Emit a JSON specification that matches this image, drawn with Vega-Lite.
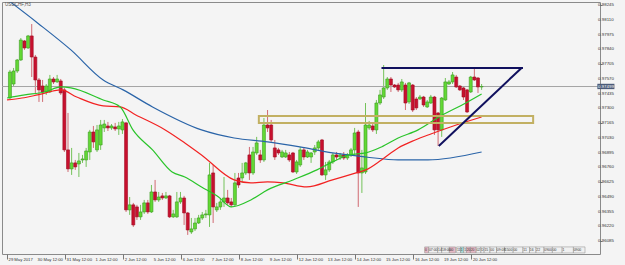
{
"$schema": "https://vega.github.io/schema/vega-lite/v6.json",
"width": 598, "height": 252,
"autosize": "none",
"padding": {"left": 2, "top": 2, "right": 25, "bottom": 11},
"background": "#f4f4f4",
"title": {"text": "USDCHF,H3", "anchor": "start", "frame": "group", "orient": "top", "offset": -5, "dx": 3, "fontSize": 4.6, "fontWeight": "normal", "color": "#555", "font": "Liberation Sans"},
"config": {"view": {"fill": "#f4f4f4", "stroke": "#8a8a8a", "strokeWidth": 1}, "font": "Liberation Sans",
"axis": {"labels": false, "grid": false, "domain": false, "tickColor": "#777"}},
"datasets": {
"candles": [
{"i":0,"o":0.97394,"h":0.97651,"l":0.97385,"c":0.97632},
{"i":1,"o":0.97522,"h":0.97669,"l":0.97504,"c":0.97641},
{"i":2,"o":0.97641,"h":0.97751,"l":0.97623,"c":0.97742},
{"i":3,"o":0.97742,"h":0.97943,"l":0.97733,"c":0.97925},
{"i":4,"o":0.97916,"h":0.97925,"l":0.97834,"c":0.97852},
{"i":5,"o":0.97852,"h":0.97971,"l":0.97843,"c":0.97962},
{"i":6,"o":0.97962,"h":0.98071,"l":0.97586,"c":0.97769},
{"i":7,"o":0.97769,"h":0.97788,"l":0.97440,"c":0.97559},
{"i":8,"o":0.97559,"h":0.97577,"l":0.97358,"c":0.97468},
{"i":9,"o":0.97504,"h":0.97559,"l":0.97358,"c":0.97449},
{"i":10,"o":0.97449,"h":0.97522,"l":0.97422,"c":0.97504},
{"i":11,"o":0.97449,"h":0.97605,"l":0.97440,"c":0.97568},
{"i":12,"o":0.97568,"h":0.97586,"l":0.97522,"c":0.97541},
{"i":13,"o":0.97541,"h":0.97605,"l":0.97532,"c":0.97568},
{"i":14,"o":0.97550,"h":0.97568,"l":0.97422,"c":0.97440},
{"i":15,"o":0.97468,"h":0.97486,"l":0.96900,"c":0.96919},
{"i":16,"o":0.96919,"h":0.97257,"l":0.96717,"c":0.96745},
{"i":17,"o":0.96745,"h":0.96937,"l":0.96690,"c":0.96800},
{"i":18,"o":0.96800,"h":0.96827,"l":0.96736,"c":0.96763},
{"i":19,"o":0.96790,"h":0.96891,"l":0.96671,"c":0.96818},
{"i":20,"o":0.96827,"h":0.96873,"l":0.96800,"c":0.96836},
{"i":21,"o":0.96827,"h":0.96937,"l":0.96763,"c":0.96909},
{"i":22,"o":0.96900,"h":0.97102,"l":0.96827,"c":0.97083},
{"i":23,"o":0.97083,"h":0.97138,"l":0.96937,"c":0.96992},
{"i":24,"o":0.96919,"h":0.97147,"l":0.96900,"c":0.97102},
{"i":25,"o":0.96964,"h":0.97193,"l":0.96919,"c":0.97147},
{"i":26,"o":0.97120,"h":0.97193,"l":0.97083,"c":0.97156},
{"i":27,"o":0.97138,"h":0.97175,"l":0.97092,"c":0.97120},
{"i":28,"o":0.97120,"h":0.97156,"l":0.97102,"c":0.97138},
{"i":29,"o":0.97129,"h":0.97166,"l":0.97092,"c":0.97111},
{"i":30,"o":0.97111,"h":0.97175,"l":0.97056,"c":0.97138},
{"i":31,"o":0.97102,"h":0.97202,"l":0.97065,"c":0.97175},
{"i":32,"o":0.97166,"h":0.97175,"l":0.96351,"c":0.96370},
{"i":33,"o":0.96370,"h":0.96488,"l":0.96324,"c":0.96416},
{"i":34,"o":0.96416,"h":0.96434,"l":0.96214,"c":0.96232},
{"i":35,"o":0.96397,"h":0.96416,"l":0.96278,"c":0.96306},
{"i":36,"o":0.96306,"h":0.96416,"l":0.96278,"c":0.96351},
{"i":37,"o":0.96351,"h":0.96461,"l":0.96333,"c":0.96434},
{"i":38,"o":0.96434,"h":0.96461,"l":0.96333,"c":0.96351},
{"i":39,"o":0.96351,"h":0.96598,"l":0.96342,"c":0.96534},
{"i":40,"o":0.96534,"h":0.96644,"l":0.96443,"c":0.96461},
{"i":41,"o":0.96461,"h":0.96534,"l":0.96443,"c":0.96488},
{"i":42,"o":0.96498,"h":0.96525,"l":0.96461,"c":0.96479},
{"i":43,"o":0.96479,"h":0.96534,"l":0.96470,"c":0.96498},
{"i":44,"o":0.96498,"h":0.96507,"l":0.96296,"c":0.96306},
{"i":45,"o":0.96306,"h":0.96370,"l":0.96296,"c":0.96333},
{"i":46,"o":0.96306,"h":0.96534,"l":0.96296,"c":0.96443},
{"i":47,"o":0.96443,"h":0.96534,"l":0.96425,"c":0.96479},
{"i":48,"o":0.96479,"h":0.96498,"l":0.96232,"c":0.96342},
{"i":49,"o":0.96342,"h":0.96351,"l":0.96141,"c":0.96186},
{"i":50,"o":0.96168,"h":0.96296,"l":0.96150,"c":0.96196},
{"i":51,"o":0.96196,"h":0.96296,"l":0.96177,"c":0.96250},
{"i":52,"o":0.96250,"h":0.96324,"l":0.96241,"c":0.96296},
{"i":53,"o":0.96296,"h":0.96351,"l":0.96278,"c":0.96324},
{"i":54,"o":0.96324,"h":0.96370,"l":0.96296,"c":0.96333},
{"i":55,"o":0.96324,"h":0.96800,"l":0.96214,"c":0.96690},
{"i":56,"o":0.96708,"h":0.96781,"l":0.96250,"c":0.96397},
{"i":57,"o":0.96370,"h":0.96434,"l":0.96351,"c":0.96397},
{"i":58,"o":0.96397,"h":0.96479,"l":0.96370,"c":0.96443},
{"i":59,"o":0.96443,"h":0.96671,"l":0.96397,"c":0.96479},
{"i":60,"o":0.96479,"h":0.96553,"l":0.96416,"c":0.96434},
{"i":61,"o":0.96443,"h":0.96479,"l":0.96397,"c":0.96416},
{"i":62,"o":0.96416,"h":0.96708,"l":0.96406,"c":0.96617},
{"i":63,"o":0.96662,"h":0.96708,"l":0.96571,"c":0.96598},
{"i":64,"o":0.96662,"h":0.96800,"l":0.96617,"c":0.96708},
{"i":65,"o":0.96708,"h":0.96809,"l":0.96690,"c":0.96800},
{"i":66,"o":0.96873,"h":0.96946,"l":0.96644,"c":0.96708},
{"i":67,"o":0.96708,"h":0.96946,"l":0.96690,"c":0.96900},
{"i":68,"o":0.96891,"h":0.97038,"l":0.96873,"c":0.96983},
{"i":69,"o":0.96873,"h":0.96919,"l":0.96800,"c":0.96827},
{"i":70,"o":0.96827,"h":0.97211,"l":0.96809,"c":0.97147},
{"i":71,"o":0.97147,"h":0.97284,"l":0.97083,"c":0.97120},
{"i":72,"o":0.97147,"h":0.97193,"l":0.96992,"c":0.97010},
{"i":73,"o":0.96937,"h":0.97010,"l":0.96827,"c":0.96854},
{"i":74,"o":0.96919,"h":0.96937,"l":0.96873,"c":0.96891},
{"i":75,"o":0.96854,"h":0.96919,"l":0.96845,"c":0.96900},
{"i":76,"o":0.96854,"h":0.96919,"l":0.96845,"c":0.96891},
{"i":77,"o":0.96873,"h":0.96900,"l":0.96809,"c":0.96827},
{"i":78,"o":0.96891,"h":0.96900,"l":0.96708,"c":0.96717},
{"i":79,"o":0.96717,"h":0.96827,"l":0.96699,"c":0.96809},
{"i":80,"o":0.96781,"h":0.96946,"l":0.96763,"c":0.96919},
{"i":81,"o":0.96919,"h":0.96937,"l":0.96827,"c":0.96854},
{"i":82,"o":0.96854,"h":0.96919,"l":0.96845,"c":0.96900},
{"i":83,"o":0.96854,"h":0.96900,"l":0.96800,"c":0.96891},
{"i":84,"o":0.96900,"h":0.96964,"l":0.96873,"c":0.96937},
{"i":85,"o":0.96937,"h":0.97010,"l":0.96919,"c":0.96992},
{"i":86,"o":0.97010,"h":0.97019,"l":0.96681,"c":0.96690},
{"i":87,"o":0.96690,"h":0.96809,"l":0.96644,"c":0.96736},
{"i":88,"o":0.96736,"h":0.96827,"l":0.96717,"c":0.96809},
{"i":89,"o":0.96809,"h":0.96891,"l":0.96790,"c":0.96873},
{"i":90,"o":0.96873,"h":0.96900,"l":0.96827,"c":0.96854},
{"i":91,"o":0.96854,"h":0.96891,"l":0.96827,"c":0.96873},
{"i":92,"o":0.96873,"h":0.96900,"l":0.96827,"c":0.96845},
{"i":93,"o":0.96845,"h":0.96891,"l":0.96827,"c":0.96873},
{"i":94,"o":0.96873,"h":0.96937,"l":0.96854,"c":0.96919},
{"i":95,"o":0.96919,"h":0.97120,"l":0.96873,"c":0.97074},
{"i":96,"o":0.97083,"h":0.97102,"l":0.96397,"c":0.96708},
{"i":97,"o":0.96708,"h":0.96919,"l":0.96525,"c":0.96754},
{"i":98,"o":0.96717,"h":0.97348,"l":0.96699,"c":0.97147},
{"i":99,"o":0.97120,"h":0.97184,"l":0.97102,"c":0.97147},
{"i":100,"o":0.97138,"h":0.97166,"l":0.97083,"c":0.97102},
{"i":101,"o":0.97102,"h":0.97376,"l":0.97065,"c":0.97348},
{"i":102,"o":0.97348,"h":0.97468,"l":0.97330,"c":0.97422},
{"i":103,"o":0.97403,"h":0.97696,"l":0.97385,"c":0.97486},
{"i":104,"o":0.97486,"h":0.97586,"l":0.97468,"c":0.97568},
{"i":105,"o":0.97568,"h":0.97586,"l":0.97449,"c":0.97513},
{"i":106,"o":0.97513,"h":0.97522,"l":0.97486,"c":0.97495},
{"i":107,"o":0.97513,"h":0.97532,"l":0.97449,"c":0.97468},
{"i":108,"o":0.97468,"h":0.97568,"l":0.97449,"c":0.97541},
{"i":109,"o":0.97513,"h":0.97532,"l":0.97284,"c":0.97348},
{"i":110,"o":0.97358,"h":0.97541,"l":0.97339,"c":0.97532},
{"i":111,"o":0.97513,"h":0.97522,"l":0.97266,"c":0.97284},
{"i":112,"o":0.97385,"h":0.97403,"l":0.97284,"c":0.97303},
{"i":113,"o":0.97385,"h":0.97422,"l":0.97376,"c":0.97403},
{"i":114,"o":0.97403,"h":0.97413,"l":0.97312,"c":0.97330},
{"i":115,"o":0.97312,"h":0.97376,"l":0.97303,"c":0.97358},
{"i":116,"o":0.97348,"h":0.97422,"l":0.97339,"c":0.97403},
{"i":117,"o":0.97403,"h":0.97413,"l":0.97056,"c":0.97102},
{"i":118,"o":0.97257,"h":0.97266,"l":0.96955,"c":0.97102},
{"i":119,"o":0.97102,"h":0.97403,"l":0.97038,"c":0.97394},
{"i":120,"o":0.97376,"h":0.97577,"l":0.97367,"c":0.97541},
{"i":121,"o":0.97522,"h":0.97559,"l":0.97513,"c":0.97541},
{"i":122,"o":0.97541,"h":0.97632,"l":0.97522,"c":0.97605},
{"i":123,"o":0.97586,"h":0.97605,"l":0.97486,"c":0.97495},
{"i":124,"o":0.97504,"h":0.97513,"l":0.97458,"c":0.97468},
{"i":125,"o":0.97486,"h":0.97495,"l":0.97376,"c":0.97403},
{"i":126,"o":0.97468,"h":0.97477,"l":0.97257,"c":0.97266},
{"i":127,"o":0.97449,"h":0.97596,"l":0.97440,"c":0.97586},
{"i":128,"o":0.97586,"h":0.97669,"l":0.97550,"c":0.97559},
{"i":129,"o":0.97577,"h":0.97586,"l":0.97440,"c":0.97495},
{"i":130,"o":0.97495,"h":0.97522,"l":0.97468,"c":0.97499}
],
"ma": [
{"s":"blue","i":0,"v":0.98276},{"s":"blue","i":7.6,"v":0.98081},{"s":"blue","i":16.8,"v":0.97834},{"s":"blue","i":25.7,"v":0.97559},{"s":"blue","i":31.2,"v":0.97468},{"s":"blue","i":39.3,"v":0.97312},{"s":"blue","i":52.8,"v":0.97102},{"s":"blue","i":61.8,"v":0.97028},{"s":"blue","i":71,"v":0.96992},{"s":"blue","i":79.9,"v":0.96946},{"s":"blue","i":88.9,"v":0.96891},{"s":"blue","i":98.1,"v":0.96854},{"s":"blue","i":107,"v":0.96827},{"s":"blue","i":115.2,"v":0.96827},{"s":"blue","i":130,"v":0.96900},
{"s":"red","i":-0.8,"v":0.97376},{"s":"red","i":3.3,"v":0.97394},{"s":"red","i":7.6,"v":0.97422},{"s":"red","i":14.1,"v":0.97468},{"s":"red","i":18.4,"v":0.97403},{"s":"red","i":25.7,"v":0.97321},{"s":"red","i":30.4,"v":0.97312},{"s":"red","i":34.7,"v":0.97239},{"s":"red","i":42.8,"v":0.97102},{"s":"red","i":48.2,"v":0.96983},{"s":"red","i":52.8,"v":0.96873},{"s":"red","i":61.8,"v":0.96644},{"s":"red","i":66.4,"v":0.96617},{"s":"red","i":71,"v":0.96626},{"s":"red","i":75.3,"v":0.96617},{"s":"red","i":81.8,"v":0.96580},{"s":"red","i":88.9,"v":0.96644},{"s":"red","i":95.4,"v":0.96708},{"s":"red","i":98.1,"v":0.96736},{"s":"red","i":102.4,"v":0.96827},{"s":"red","i":107,"v":0.96937},{"s":"red","i":111.7,"v":0.97010},{"s":"red","i":116,"v":0.97065},{"s":"red","i":121.4,"v":0.97129},{"s":"red","i":130,"v":0.97220},
{"s":"green","i":-0.8,"v":0.97394},{"s":"green","i":4.1,"v":0.97422},{"s":"green","i":9.5,"v":0.97449},{"s":"green","i":14.1,"v":0.97495},{"s":"green","i":16.8,"v":0.97486},{"s":"green","i":25.7,"v":0.97376},{"s":"green","i":30.4,"v":0.97312},{"s":"green","i":33.9,"v":0.97102},{"s":"green","i":39.3,"v":0.96919},{"s":"green","i":44.7,"v":0.96717},{"s":"green","i":48.2,"v":0.96671},{"s":"green","i":52.8,"v":0.96580},{"s":"green","i":57.5,"v":0.96488},{"s":"green","i":61,"v":0.96397},{"s":"green","i":66.4,"v":0.96461},{"s":"green","i":71,"v":0.96553},{"s":"green","i":78,"v":0.96644},{"s":"green","i":84.6,"v":0.96736},{"s":"green","i":88.9,"v":0.96809},{"s":"green","i":93.5,"v":0.96873},{"s":"green","i":98.1,"v":0.96891},{"s":"green","i":102.4,"v":0.96946},{"s":"green","i":107,"v":0.97028},{"s":"green","i":112.5,"v":0.97102},{"s":"green","i":118.7,"v":0.97230},{"s":"green","i":124.1,"v":0.97321},{"s":"green","i":130,"v":0.97431}
],
"pattern": [
{"a":102.4,"pa":0.97669,"b":141.4,"pb":0.97669},
{"a":118.2,"pa":0.96955,"b":141.0,"pb":0.97669}
],
"zone": [{"a":68.6,"b":144.2,"top":0.97230,"bot":0.97166}],
"last": [{"p":0.97499}],
"xlabels": [
{"i":-0.8,"t":"29 May 2017"},{"i":7.2,"t":"30 May 12:00"},{"i":15.2,"t":"31 May 12:00"},{"i":23.2,"t":"1 Jun 12:00"},{"i":31.2,"t":"2 Jun 12:00"},{"i":39.2,"t":"5 Jun 12:00"},{"i":47.2,"t":"6 Jun 12:00"},{"i":55.2,"t":"7 Jun 12:00"},{"i":63.2,"t":"8 Jun 12:00"},{"i":71.2,"t":"9 Jun 12:00"},{"i":79.2,"t":"12 Jun 12:00"},{"i":87.2,"t":"13 Jun 12:00"},{"i":95.2,"t":"14 Jun 12:00"},{"i":103.2,"t":"15 Jun 12:00"},{"i":111.2,"t":"16 Jun 12:00"},{"i":119.2,"t":"19 Jun 12:00"},{"i":127.2,"t":"20 Jun 12:00"}
],
"ylabels": [
{"v":0.98245},{"v":0.98110},{"v":0.97975},{"v":0.97840},{"v":0.97705},{"v":0.97570},{"v":0.97435},{"v":0.97300},{"v":0.97165},{"v":0.97030},{"v":0.96895},{"v":0.96760},{"v":0.96625},{"v":0.96490},{"v":0.96355},{"v":0.96220},{"v":0.96085}
],
"tags": [
{"a":114.3,"b":115.4,"t":"0","k":"p"},{"a":115.4,"b":117.9,"t":"07:00","k":"w"},{"a":117.9,"b":119.0,"t":"14","k":"w"},{"a":119.0,"b":121.1,"t":"18:00","k":"w"},{"a":121.1,"b":122.8,"t":"00","k":"p"},{"a":123.1,"b":124.2,"t":"11","k":"w"},{"a":124.2,"b":125.1,"t":"1","k":"c"},{"a":125.1,"b":125.8,"t":"1","k":"w"},{"a":125.8,"b":126.9,"t":"20","k":"p"},{"a":126.9,"b":128.5,"t":"20","k":"p"},{"a":128.5,"b":129.8,"t":"02","k":"w"},{"a":129.8,"b":130.7,"t":"D","k":"w"},{"a":130.7,"b":132.3,"t":"15","k":"w"},{"a":132.3,"b":134.1,"t":"00","k":"w"},{"a":134.1,"b":136.3,"t":"09:08","k":"w"},{"a":136.3,"b":138.7,"t":"1500","k":"w"},{"a":138.7,"b":141.4,"t":"00","k":"w"},{"a":141.4,"b":143.2,"t":"11","k":"w"},{"a":143.2,"b":145.0,"t":"16","k":"w"},{"a":145.0,"b":147.2,"t":"22","k":"w"},{"a":147.2,"b":149.5,"t":"0900","k":"w"},{"a":149.5,"b":152.2,"t":"00","k":"w"},{"a":152.2,"b":155.3,"t":"1","k":"w"},{"a":155.3,"b":158.5,"t":"0900","k":"w"}
]
},
"layer": [
{
"data": {"name": "candles"},
"mark": {"type": "rule", "strokeWidth": 1},
"encoding": {
"x": {"field": "i", "type": "quantitative", "title": null, "scale": {"domain": [-0.813, 161.25], "nice": false, "zero": false},
"axis": {"orient": "bottom", "values": [-0.8,7.2,15.2,23.2,31.2,39.2,47.2,55.2,63.2,71.2,79.2,87.2,95.2,103.2,111.2,119.2,127.2], "labels": false, "tickSize": 5, "tickColor": "#777", "domain": false, "grid": false}},
"y": {"field": "l", "type": "quantitative", "title": null, "scale": {"domain": [0.959662, 0.982725], "nice": false, "zero": false},
"axis": {"orient": "right", "values": [0.98245,0.98110,0.97975,0.97840,0.97705,0.97570,0.97435,0.97300,0.97165,0.97030,0.96895,0.96760,0.96625,0.96490,0.96355,0.96220,0.96085], "labels": false, "tickSize": 2, "tickColor": "#777", "domain": false, "grid": false}},
"y2": {"field": "h"},
"color": {"condition": {"test": "datum.c >= datum.o", "value": "#74c25a"}, "value": "#d06a72"}
}
},
{
"data": {"name": "last"},
"mark": {"type": "rule", "color": "#a4a4a4", "strokeWidth": 1},
"encoding": {"y": {"field": "p", "type": "quantitative", "title": null}}
},
{
"data": {"name": "candles"},
"mark": {"type": "bar", "width": 3, "strokeWidth": 0.6},
"encoding": {
"x": {"field": "i", "type": "quantitative", "title": null},
"y": {"field": "o", "type": "quantitative", "title": null},
"y2": {"field": "c"},
"fill": {"condition": {"test": "datum.c >= datum.o", "value": "#62d934"}, "value": "#c8102e"},
"stroke": {"condition": {"test": "datum.c >= datum.o", "value": "#3c9a22"}, "value": "#a00d24"}
}
},
{
"data": {"name": "ma"},
"mark": {"type": "line", "strokeWidth": 1.2, "interpolate": "monotone", "clip": true},
"encoding": {
"x": {"field": "i", "type": "quantitative", "title": null},
"y": {"field": "v", "type": "quantitative", "title": null},
"color": {"field": "s", "type": "nominal", "scale": {"domain": ["blue","red","green"], "range": ["#2a64a8","#f22222","#2ac42a"]}, "legend": null},
"order": {"field": "i", "type": "quantitative"}
}
},
{
"data": {"name": "zone"},
"mark": {"type": "rect", "fillOpacity": 0, "fill": "#f4f4f4", "stroke": "#c2b062", "strokeWidth": 2},
"encoding": {
"x": {"field": "a", "type": "quantitative", "title": null},
"x2": {"field": "b"},
"y": {"field": "top", "type": "quantitative", "title": null},
"y2": {"field": "bot"}
}
},
{
"data": {"name": "pattern"},
"mark": {"type": "rule", "color": "#10105e", "strokeWidth": 2},
"encoding": {
"x": {"field": "a", "type": "quantitative", "title": null},
"x2": {"field": "b"},
"y": {"field": "pa", "type": "quantitative", "title": null},
"y2": {"field": "pb"}
}
},
{
"data": {"name": "tags"},
"mark": {"type": "rect", "stroke": "#888", "strokeWidth": 0.5},
"encoding": {
"x": {"field": "a", "type": "quantitative", "title": null},
"x2": {"field": "b"},
"y": {"datum": 0.96031, "type": "quantitative", "title": null},
"y2": {"datum": 0.95976},
"fill": {"field": "k", "type": "nominal", "scale": {"domain": ["w","p","c"], "range": ["#f0f0f0","#e6b8c4","#a8dcd8"]}, "legend": null}
}
},
{
"data": {"name": "tags"},
"mark": {"type": "text", "fontSize": 3.4, "align": "left", "baseline": "middle", "dx": 0.3, "color": "#333"},
"encoding": {
"x": {"field": "a", "type": "quantitative", "title": null},
"y": {"datum": 0.960035, "type": "quantitative", "title": null},
"text": {"field": "t"}
}
},
{
"data": {"name": "xlabels"},
"mark": {"type": "text", "fontSize": 4.2, "align": "left", "baseline": "middle", "dx": 1.5, "color": "#333", "clip": false},
"encoding": {
"x": {"field": "i", "type": "quantitative", "title": null},
"y": {"datum": 0.95912, "type": "quantitative", "title": null},
"text": {"field": "t"}
}
},
{
"data": {"name": "ylabels"},
"mark": {"type": "text", "fontSize": 4.4, "align": "left", "baseline": "middle", "color": "#333", "clip": false},
"encoding": {
"x": {"datum": 162.1, "type": "quantitative", "title": null},
"y": {"field": "v", "type": "quantitative", "title": null},
"text": {"field": "v", "format": ".5f"}
}
},
{
"data": {"name": "last"},
"mark": {"type": "rect", "color": "#4a5a78", "clip": false},
"encoding": {
"x": {"datum": 161.9, "type": "quantitative", "title": null},
"x2": {"datum": 166.6},
"y": {"datum": 0.97524, "type": "quantitative", "title": null},
"y2": {"datum": 0.97475}
}
},
{
"data": {"name": "last"},
"mark": {"type": "text", "fontSize": 4.4, "align": "center", "baseline": "middle", "color": "#ffffff", "clip": false},
"encoding": {
"x": {"datum": 164.25, "type": "quantitative", "title": null},
"y": {"field": "p", "type": "quantitative", "title": null},
"text": {"field": "p", "format": ".5f"}
}
}
]
}
